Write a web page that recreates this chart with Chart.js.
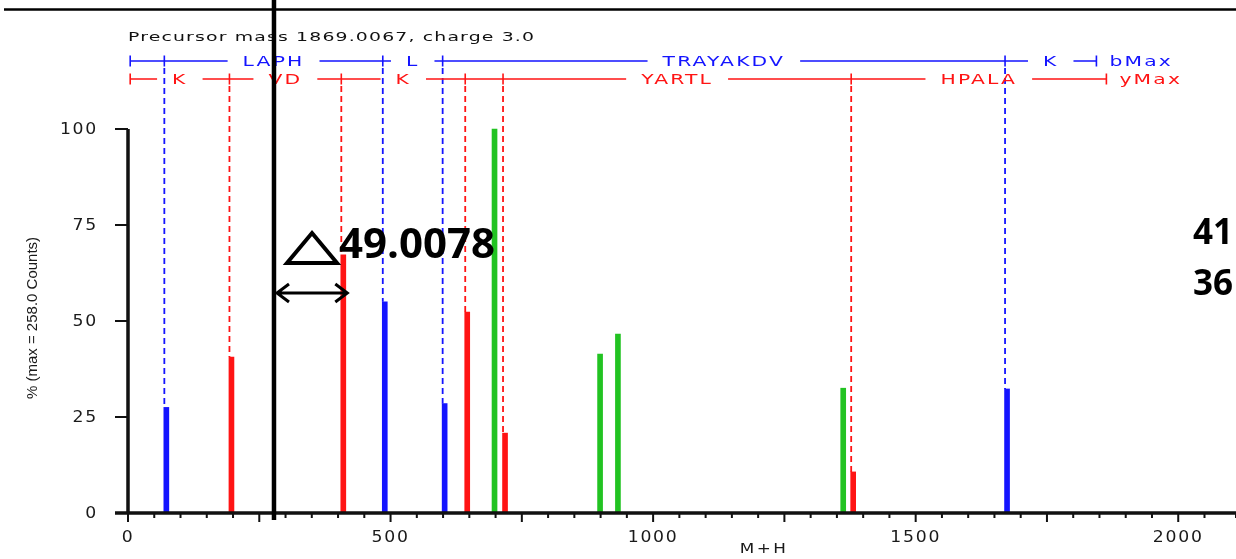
<!DOCTYPE html>
<html>
<head>
<meta charset="utf-8">
<script src="https://cdn.jsdelivr.net/npm/chart.js@4.4.1/dist/chart.umd.min.js"></script>
<style>
  html, body { margin: 0; padding: 0; background: #fff; }
  canvas { display: block; }
</style>
</head>
<body>
<canvas id="spectrum" width="1236" height="559"></canvas>
<script>
// peaks: M+H value and relative intensity (%)
const bIonMz = [73, 489, 603, 1674]
const bIonPct = [27.5, 55, 28.5, 32.3]
const yIonMz = [197, 410, 646, 718, 1381]
const yIonPct = [40.6, 67.2, 52.3, 20.8, 10.7]
const otherMz = [698, 899, 933, 1362]
const otherPct = [100, 41.4, 46.6, 32.5]

// sequence ladders drawn above the peaks
const ladderStart = 8
const bMaxMz = 1848
const yMaxMz = 1867
const bLadder = ["", "LAPH", "L", "TRAYAKDV", "K"]
const yLadder = ["K", "VD", "K", "", "YARTL", "HPALA"]

const yTicks = [0, 25, 50, 75, 100]
const xLabelTicks = [0, 500, 1000, 1500, 2000]

const precursorText = "Precursor mass 1869.0067, charge 3.0"
const yTitle = "% (max = 258.0 Counts)"
const xTitle = "M+H"

// overlay annotation
const markerMz = 278
const deltaText = "49.0078"
const sideNotes = ["41", "36"]

const BLUE = "#1414ff"
const RED = "#ff1414"
const GREEN = "#22c322"

function wideText(ctx, str, x, y, o) {
  ctx.save()
  ctx.font = o.font
  ctx.letterSpacing = (o.spacing || 0) + "px"
  ctx.fillStyle = o.color || "#111"
  ctx.textBaseline = o.baseline || "middle"
  ctx.textAlign = "left"
  const sx = o.sx || 1
  const w = ctx.measureText(str).width * sx
  let left = x
  if (o.align === "center") left = x - w / 2
  if (o.align === "right") left = x - w
  ctx.translate(left, y)
  ctx.scale(sx, 1)
  ctx.fillText(str, 0, 0)
  ctx.restore()
  return w
}

const ladderFont = { font: "14px 'DejaVu Sans'", spacing: 1.5, sx: 1.45 }

function drawLadder(ctx, xs, rowY, bounds, labels, color, endLabel) {
  const px = bounds.map(v => xs.getPixelForValue(v) - 2)
  ctx.save()
  ctx.strokeStyle = color
  ctx.lineWidth = 1.6
  ctx.beginPath()
  for (let i = 0; i < px.length - 1; i++) {
    const a = px[i], b = px[i + 1]
    const label = labels[i]
    if (label) {
      ctx.save()
      ctx.font = ladderFont.font
      ctx.letterSpacing = ladderFont.spacing + "px"
      const w = ctx.measureText(label).width * ladderFont.sx
      ctx.restore()
      const c = (a + b) / 2
      const gap = 15
      if (c - w / 2 - gap > a) { ctx.moveTo(a, rowY); ctx.lineTo(c - w / 2 - gap, rowY) }
      if (c + w / 2 + gap < b) { ctx.moveTo(c + w / 2 + gap, rowY); ctx.lineTo(b, rowY) }
      wideText(ctx, label, c, rowY + 1, Object.assign({ color, align: "center" }, ladderFont))
    } else {
      ctx.moveTo(a, rowY); ctx.lineTo(b, rowY)
    }
  }
  px.forEach(p => { ctx.moveTo(p, rowY - 5.5); ctx.lineTo(p, rowY + 5.5) })
  ctx.stroke()
  ctx.restore()
  wideText(ctx, endLabel, px[px.length - 1] + 13, rowY + 1, Object.assign({ color }, ladderFont))
}

const spectrumPlugin = {
  id: "spectrum",
  beforeDatasetsDraw(chart) {
    const { ctx } = chart
    const xs = chart.scales.x, ys = chart.scales.y
    ctx.save()
    ctx.lineWidth = 1.8
    ctx.setLineDash([6, 4])
    const dashes = (mzs, pcts, color, top) => {
      ctx.strokeStyle = color
      mzs.forEach((mz, i) => {
        const p = xs.getPixelForValue(mz) - 2
        ctx.beginPath()
        ctx.moveTo(p, top)
        ctx.lineTo(p, ys.getPixelForValue(pcts[i]))
        ctx.stroke()
      })
    }
    dashes(bIonMz, bIonPct, BLUE, 68)
    dashes(yIonMz, yIonPct, RED, 86)
    ctx.restore()
  },
  afterDraw(chart) {
    const { ctx } = chart
    const xs = chart.scales.x, ys = chart.scales.y
    const x0 = xs.getPixelForValue(0), y0 = ys.getPixelForValue(0)
    const labelStyle = { font: "15px 'DejaVu Sans'", spacing: 1.5, sx: 1.15, color: "#1a1a1a" }

    ctx.save()
    ctx.strokeStyle = "#111"
    // axis lines
    ctx.lineWidth = 3.5
    ctx.beginPath()
    ctx.moveTo(115, y0); ctx.lineTo(chart.width, y0)
    ctx.moveTo(x0, y0); ctx.lineTo(x0, ys.getPixelForValue(100))
    ctx.stroke()
    // x ticks every 50, longer every 250
    ctx.lineWidth = 2
    ctx.beginPath()
    xs.ticks.forEach(t => {
      const p = xs.getPixelForValue(t.value)
      const len = t.value % 250 === 0 ? 9 : 5
      ctx.moveTo(p, y0); ctx.lineTo(p, y0 + len)
    })
    yTicks.forEach(v => {
      const p = ys.getPixelForValue(v)
      ctx.moveTo(115, p); ctx.lineTo(x0, p)
    })
    ctx.stroke()
    ctx.restore()

    yTicks.forEach(v => wideText(ctx, String(v), 98, ys.getPixelForValue(v) + 1, Object.assign({ align: "right" }, labelStyle)))
    xLabelTicks.forEach(v => wideText(ctx, String(v), xs.getPixelForValue(v), 538, Object.assign({ align: "center" }, labelStyle)))

    // axis titles
    ctx.save()
    ctx.translate(33, 318)
    ctx.rotate(-Math.PI / 2)
    wideText(ctx, yTitle, 0, 0, { font: "15px 'Liberation Sans'", align: "center", color: "#1a1a1a" })
    ctx.restore()
    wideText(ctx, xTitle, 764, 549, { font: "14px 'DejaVu Sans'", spacing: 2, sx: 1.2, align: "center", color: "#1a1a1a" })

    // header + ladders
    wideText(ctx, precursorText, 128, 38, { font: "13px 'DejaVu Sans'", spacing: 0.8, sx: 1.45, color: "#111" })
    drawLadder(ctx, xs, 61, [ladderStart, ...bIonMz, bMaxMz], bLadder, BLUE, "bMax")
    drawLadder(ctx, xs, 79, [ladderStart, ...yIonMz, yMaxMz], yLadder, RED, "yMax")

    // overlay: frame line, marker, delta arrow and notes
    const mk = xs.getPixelForValue(markerMz)
    ctx.save()
    ctx.strokeStyle = "#000"
    ctx.lineWidth = 2.5
    ctx.beginPath()
    ctx.moveTo(4, 9.5); ctx.lineTo(chart.width, 9.5)
    ctx.stroke()
    ctx.lineWidth = 4.5
    ctx.beginPath()
    ctx.moveTo(mk, 0); ctx.lineTo(mk, 520)
    ctx.stroke()

    const ay = 293
    const ax1 = mk + 3, ax2 = xs.getPixelForValue(yIonMz[1]) + 4
    ctx.lineWidth = 3
    ctx.beginPath()
    ctx.moveTo(ax1, ay); ctx.lineTo(ax2, ay)
    ctx.moveTo(ax1 + 12, ay - 9); ctx.lineTo(ax1, ay); ctx.lineTo(ax1 + 12, ay + 9)
    ctx.moveTo(ax2 - 12, ay - 9); ctx.lineTo(ax2, ay); ctx.lineTo(ax2 - 12, ay + 9)
    ctx.stroke()

    ctx.lineWidth = 4
    ctx.lineJoin = "miter"
    ctx.beginPath()
    ctx.moveTo(312, 233); ctx.lineTo(337, 263); ctx.lineTo(287, 263); ctx.closePath()
    ctx.stroke()
    ctx.restore()

    wideText(ctx, deltaText, 339, 258, { font: "bold 42px 'Open Sans'", baseline: "alphabetic", color: "#000" })
    wideText(ctx, sideNotes[0], 1193, 244, { font: "bold 35px 'Open Sans'", baseline: "alphabetic", color: "#000" })
    wideText(ctx, sideNotes[1], 1193, 295, { font: "bold 35px 'Open Sans'", baseline: "alphabetic", color: "#000" })
  }
}

const toPoints = (mzs, pcts) => mzs.map((x, i) => ({ x, y: pcts[i] }))

new Chart(document.getElementById("spectrum"), {
  type: "bar",
  data: {
    datasets: [
      { label: "b ions", data: toPoints(bIonMz, bIonPct), backgroundColor: BLUE },
      { label: "y ions", data: toPoints(yIonMz, yIonPct), backgroundColor: RED },
      { label: "other", data: toPoints(otherMz, otherPct), backgroundColor: GREEN },
    ],
  },
  options: {
    responsive: false,
    devicePixelRatio: 1,
    animation: false,
    layout: { padding: { top: 33, left: 0, right: 0, bottom: 0 } },
    datasets: { bar: { barThickness: 5, grouped: false } },
    plugins: { legend: { display: false }, tooltip: { enabled: false } },
    scales: {
      x: {
        type: "linear",
        min: 0,
        max: 2110,
        offset: false,
        grid: { display: false },
        border: { display: false },
        ticks: { stepSize: 50, display: false },
        afterFit(scale) { scale.height = 46 },
      },
      y: {
        min: 0,
        max: 125,
        grid: { display: false },
        border: { display: false },
        ticks: { stepSize: 25, display: false },
        afterFit(scale) { scale.width = 128 },
      },
    },
  },
  plugins: [spectrumPlugin],
})
</script>
</body>
</html>
